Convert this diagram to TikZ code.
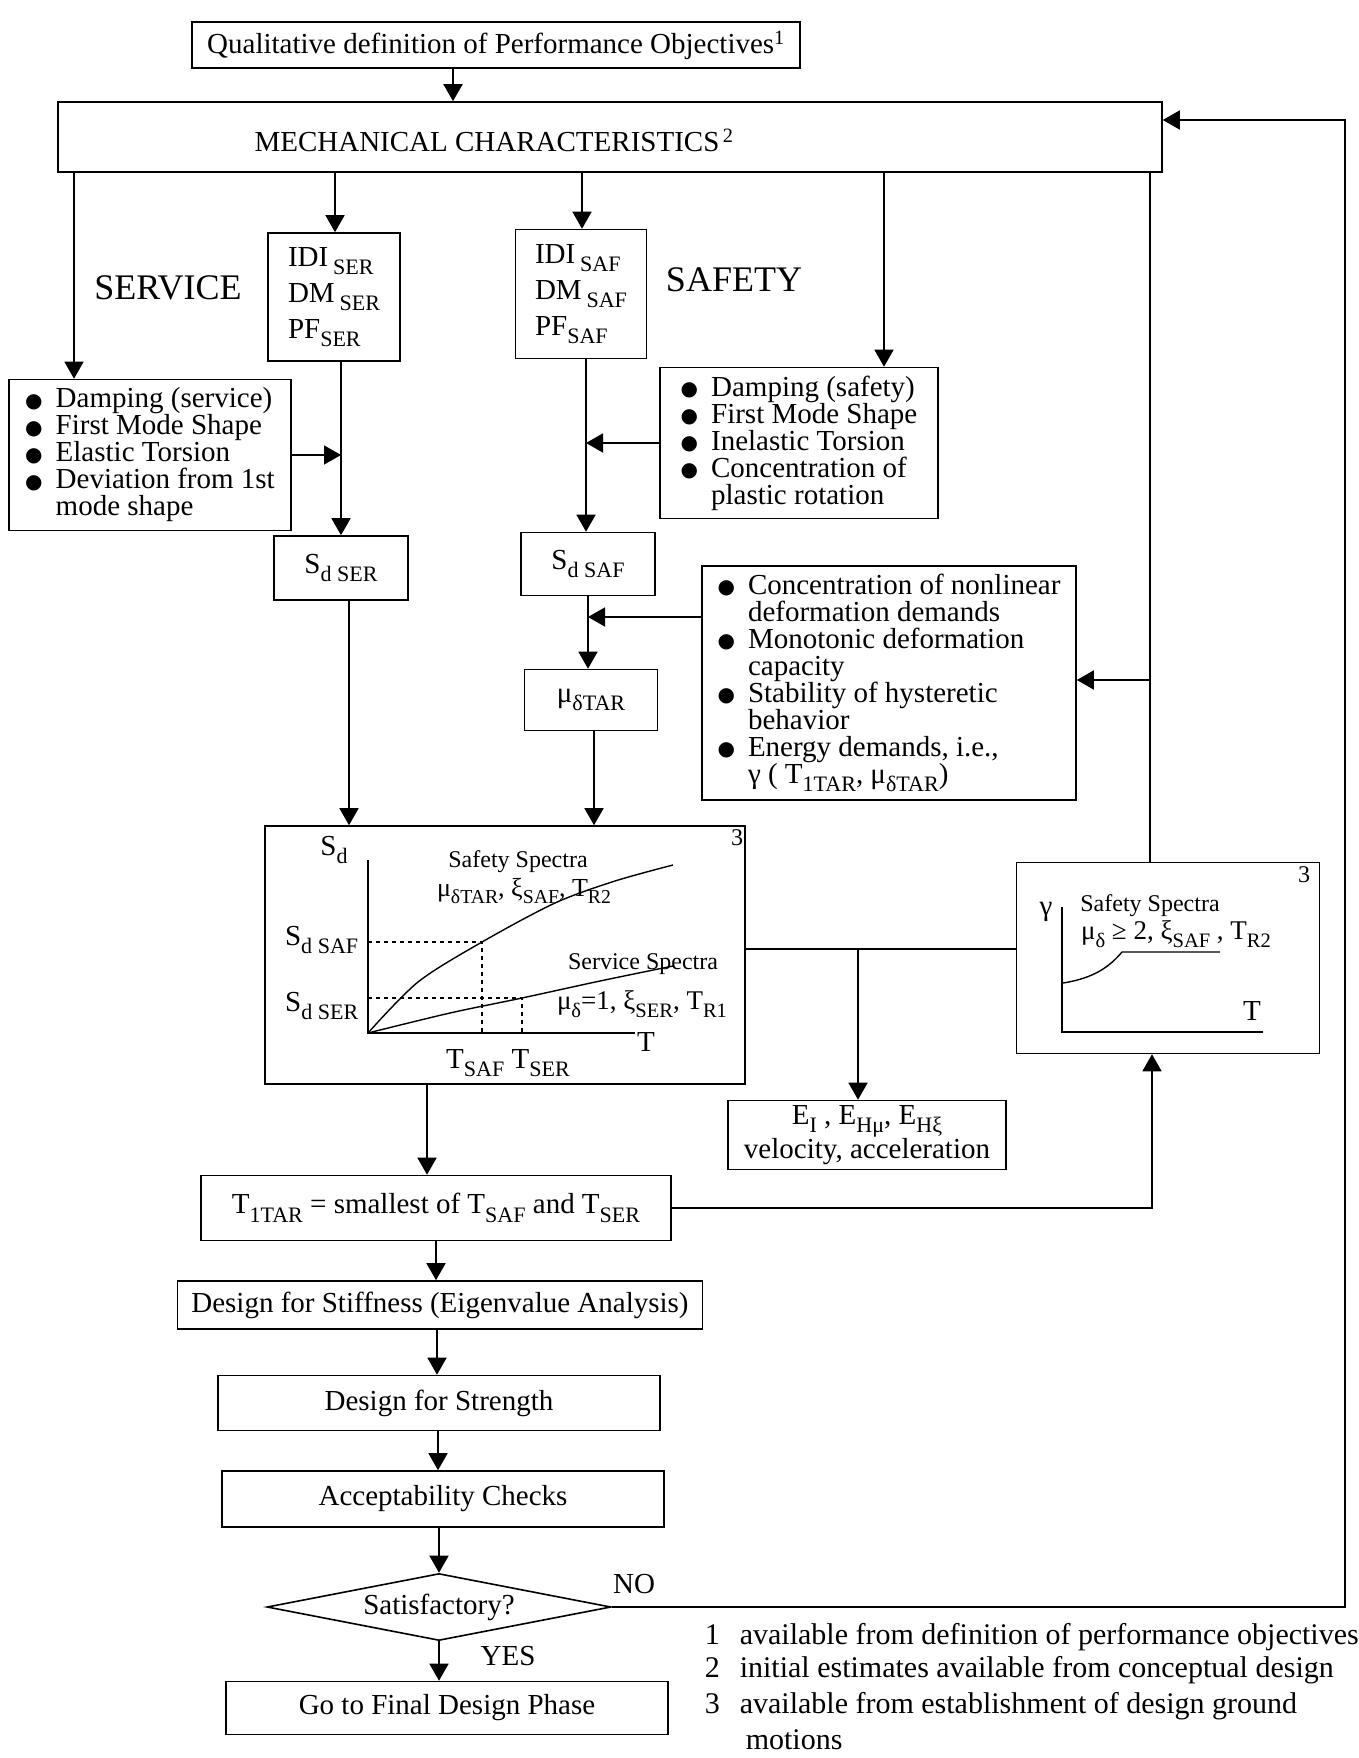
\documentclass[tikz,border=0pt]{standalone}
\usepackage{fontspec}
\setmainfont{Liberation Serif}
\newfontfamily\symf{DejaVu Sans}
\usetikzlibrary{arrows.meta,shapes.geometric}
\newcommand\bul{\makebox[1.05em][l]{\raisebox{0.02em}{\symf\fontsize{20}{20}\selectfont ●}}}
\newcommand\ind{\hspace*{1.05em}}
\makeatletter
\newcommand\sbs[1]{\raisebox{-0.3em}{\fontsize{\strip@pt\dimexpr0.76\dimexpr\f@size pt\relax\relax}{0}\selectfont #1}}
\makeatother
\begin{document}
\begin{tikzpicture}[x=1pt,y=-1pt,line width=1.6pt,
  font=\fontsize{29}{33}\selectfont,
  box/.style={draw,rectangle,inner sep=0pt,line width=1.6pt},
  bl/.style={font=\fontsize{29}{27}\selectfont,align=left},
  big/.style={font=\fontsize{36}{40}\selectfont},
  sm/.style={font=\fontsize{24}{26}\selectfont,inner sep=1pt},
  md/.style={font=\fontsize{26}{28}\selectfont,inner sep=1pt},
  lab/.style={inner sep=1pt},
  arr/.style={-{Triangle[length=17pt,width=19pt]}},
  dot/.style={line width=1.1pt,dash pattern=on 4pt off 4pt}]
\useasboundingbox (0,0) rectangle (1359,1758);

% ---------- boxes ----------
\node[box,minimum width=608,minimum height=46] (qual) at (496,45)
  {Qualitative definition of Performance Objectives\textsuperscript{1}};
\node[box,minimum width=1104,minimum height=70] (mech) at (610,137) {};
\node[lab] (mecht) at (494,140) {MECHANICAL CHARACTERISTICS\textsuperscript{\,2}};

\node[box,minimum width=132,minimum height=128,align=left,font=\fontsize{29}{36}\selectfont] (idiser) at (334,297)
  {IDI\,\sbs{SER}\\DM\,\sbs{SER}\\PF\sbs{SER}};
\node[box,minimum width=131,minimum height=129,align=left,font=\fontsize{29}{36}\selectfont] (idisaf) at (581,294)
  {IDI\,\sbs{SAF}\\DM\,\sbs{SAF}\\PF\sbs{SAF}};
\node[big] (service) at (168,288) {SERVICE};
\node[big] (safety) at (734,280) {SAFETY};

\node[box,bl,minimum width=282,minimum height=151] (dserv) at (150,455)
  {\bul Damping (service)\\\bul First Mode Shape\\\bul Elastic Torsion\\\bul Deviation from 1st\\\ind mode shape};
\node[box,bl,minimum width=278,minimum height=151] (dsafe) at (799,443)
  {\bul Damping (safety)\\\bul First Mode Shape\\\bul Inelastic Torsion\\\bul Concentration of\\\ind plastic rotation};

\node[box,minimum width=134,minimum height=64] (sdser) at (341,568) {S\sbs{d SER}};
\node[box,minimum width=134,minimum height=63] (sdsaf) at (588,564) {S\sbs{d SAF}};
\node[box,minimum width=133,minimum height=61] (mu) at (591,700) {μ\sbs{δTAR}};

\node[box,bl,minimum width=374,minimum height=234] (conc) at (889,683)
  {\bul Concentration of nonlinear\\\ind deformation demands\\\bul Monotonic deformation\\\ind capacity\\\bul Stability of hysteretic\\\ind behavior\\\bul Energy demands, i.e.,\\\ind γ ( T\sbs{1TAR}, μ\sbs{δTAR})};

% spectrum box (left)
\node[box,minimum width=480,minimum height=258] (spec) at (505,955) {};
\coordinate (O) at (368,1033);
\draw[line width=1.4pt] (368,860) -- (O) -- (635,1033);
\draw[line width=1.4pt] plot[smooth] coordinates {(368,1033) (418,982) (482,942) (555,903) (615,881) (673,865)};
\draw[line width=1.4pt] plot[smooth] coordinates {(368,1033) (450,1013) (522,998) (600,981) (673,966)};
\draw[dot] (368,942) -- (482,942) -- (482,1033);
\draw[dot] (368,998) -- (522,998) -- (522,1033);
\node[lab] (sdlab) at (334,850) {S\sbs{d}};
\node[lab,anchor=east] (sdsaflab) at (360,940) {S\sbs{d SAF}};
\node[lab,anchor=east] (sdserlab) at (360,1006) {S\sbs{d SER}};
\node[sm] (three1) at (737,838) {3};
\node[sm] (safsp) at (518,862) {Safety Spectra};
\node[md] (safpar) at (524,891) {μ\sbs{δTAR}, ξ\sbs{SAF}, T\sbs{R2}};
\node[sm] (sersp) at (643,964) {Service Spectra};
\node[md,font=\fontsize{27}{30}\selectfont] (serpar) at (642,1004) {μ\sbs{δ}=1, ξ\sbs{SER}, T\sbs{R1}};
\node[lab] (tlab) at (646,1042) {T};
\node[lab] (tsaftser) at (508,1063) {T\sbs{SAF} T\sbs{SER}};

% gamma box (right)
\node[box,minimum width=303,minimum height=191] (gamma) at (1168,958) {};
\draw[line width=1.4pt] (1062,907) -- (1062,1032) -- (1263,1032);
\draw[line width=1.4pt] (1063,983) .. controls (1095,978) and (1110,966) .. (1122,952) -- (1220,952);
\node[lab] (glab) at (1046,912) {γ};
\node[sm] (gsp) at (1150,906) {Safety Spectra};
\node[md,font=\fontsize{27}{29}\selectfont] (gpar) at (1176,934) {μ\sbs{δ} ≥ 2, ξ\sbs{SAF} , T\sbs{R2}};
\node[lab] (gT) at (1252,1011) {T};
\node[sm] (three2) at (1304,875) {3};

\node[box,minimum width=278,minimum height=69,align=center,font=\fontsize{29}{30}\selectfont] (ebox) at (867,1135)
  {E\sbs{I} , E\sbs{Hμ}, E\sbs{Hξ}\\velocity, acceleration};

\node[box,minimum width=470,minimum height=65] (t1) at (436,1208)
  {T\sbs{1TAR} = smallest of T\sbs{SAF} and T\sbs{SER}};
\node[box,minimum width=525,minimum height=48] (stiff) at (440,1305)
  {Design for Stiffness (Eigenvalue Analysis)};
\node[box,minimum width=442,minimum height=55] (strength) at (439,1403)
  {Design for Strength};
\node[box,minimum width=442,minimum height=56] (accept) at (443,1499)
  {Acceptability Checks};
\node[draw,diamond,shape aspect=5.1,minimum width=344,minimum height=67,inner sep=0pt] (diam) at (439,1607)
  {Satisfactory?};
\node[box,minimum width=442,minimum height=53] (final) at (447,1708)
  {Go to Final Design Phase};
\node[lab] (no) at (634,1584) {NO};
\node[lab] (yes) at (508,1656) {YES};

% footnotes
\begin{scope}[font=\fontsize{30}{33}\selectfont]
\node[lab,anchor=west] (fn1) at (703,1637) {\makebox[35pt][l]{1}available from definition of performance objectives};
\node[lab,anchor=west] (fn2) at (703,1670) {\makebox[35pt][l]{2}initial estimates available from conceptual design};
\node[lab,anchor=west] (fn3) at (703,1706) {\makebox[35pt][l]{3}available from establishment of design ground};
\node[lab,anchor=west] (fn3b) at (703,1740) {\hspace*{41pt}motions};
\end{scope}

% ---------- connectors ----------
\draw[arr] (453,0 |- qual.south) -- (453,0 |- mech.north);
\draw[arr] (74,0 |- mech.south) -- (74,0 |- dserv.north);
\draw[arr] (335,0 |- mech.south) -- (335,0 |- idiser.north);
\draw[arr] (582,0 |- mech.south) -- (582,0 |- idisaf.north);
\draw[arr] (884,0 |- mech.south) -- (884,0 |- dsafe.north);

\draw[arr] (341,0 |- idiser.south) -- (341,0 |- sdser.north);
\draw[arr] (dserv.east) -- (341,0 |- dserv.east);
\draw[arr] (586,0 |- idisaf.south) -- (586,0 |- sdsaf.north);
\draw[arr] (dsafe.west) -- (586,0 |- dsafe.west);
\draw[arr] (588,0 |- sdsaf.south) -- (588,0 |- mu.north);
\draw[arr] (conc.west |- 0,617) -- (588,617);

\draw[arr] (349,0 |- sdser.south) -- (349,0 |- spec.north);
\draw[arr] (594,0 |- mu.south) -- (594,0 |- spec.north);

\coordinate (gj) at (1150,680);
\draw (1150,0 |- mech.south) -- (1150,0 |- gamma.north);
\draw[arr] (gj) -- (conc.east |- gj);

\coordinate (ej) at (858,949);
\draw (spec.east |- ej) -- (gamma.west |- ej);
\draw[arr] (ej) -- (ej |- ebox.north);

\draw[arr] (427,0 |- spec.south) -- (427,0 |- t1.north);
\draw[arr] (t1.east) -- (1152,0 |- t1.east) -- (1152,0 |- gamma.south);

\draw[arr] (436,0 |- t1.south) -- (436,0 |- stiff.north);
\draw[arr] (437,0 |- stiff.south) -- (437,0 |- strength.north);
\draw[arr] (438,0 |- strength.south) -- (438,0 |- accept.north);
\draw[arr] (439,0 |- accept.south) -- (diam.north);
\draw[arr] (diam.south) -- (439,0 |- final.north);

\coordinate (fbtop) at (1345,120);
\draw[arr] (diam.east) -- (diam.east -| fbtop) -- (fbtop) -- (mech.east |- fbtop);
\end{tikzpicture}
\end{document}
